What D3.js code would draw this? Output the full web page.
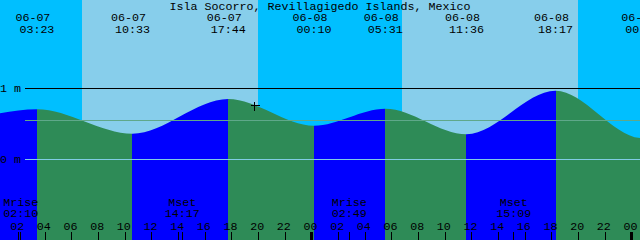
<!DOCTYPE html>
<html>
<head>
<meta charset="utf-8">
<script src="https://cdn.jsdelivr.net/npm/d3@7"></script>
<style>
  body { margin: 0; overflow: hidden; background: #fff; }
  svg { display: block; }
  text { font-family: 'Liberation Mono', 'DejaVu Sans Mono', monospace; font-size: 11.66px; fill: #000; }
</style>
</head>
<body>
<svg width="640" height="240"></svg>
<script>
var title = 'Isla Socorro, Revillagigedo Islands, Mexico';
var year = 2024; // year is not printed on the chart
var startTime = '06-07 00:37';
var endTime = '06-09 00:37';

// highs and lows; first two and last one fall outside the window
var tideTimes = ['06-06 16:40', '06-06 22:00', '06-07 03:23', '06-07 10:33', '06-07 17:44',
  '06-08 00:10', '06-08 05:31', '06-08 11:36', '06-08 18:17', '06-09 00:49', '06-09 07:10'];
var tideLevels = [0.85, 0.60, 0.707, 0.363, 0.852, 0.476, 0.715, 0.355, 0.969, 0.30, 0.74];

var sunTimes = ['06-07 06:45', '06-07 19:57', '06-08 06:45', '06-08 19:57']; // rise, set, rise, set
var moonNames = ['Mrise', 'Mset', 'Mrise', 'Mset'];
var moonTimes = ['06-07 02:10', '06-07 14:17', '06-08 02:49', '06-08 15:09'];

var depthMarks = [1, 0];
var depthLabels = ['1 m', '0 m'];
var meanLevel = 0.55;
var nowTime = '06-07 19:38';
var nowLevel = 0.77;

var W = 640, H = 240;
var parse = d3.timeParse('%Y-%m-%d %H:%M');
function when(s) { return parse(year + '-' + s); }

var x = d3.scaleTime().domain([when(startTime), when(endTime)]).range([0, W]);
var y = d3.scaleLinear().domain([0, 1]).range([159.5, 88.5]);

var svg = d3.select('svg');
var fmtDate = d3.timeFormat('%m-%d');
var fmtTime = d3.timeFormat('%H:%M');
var fmtHour = d3.timeFormat('%H');

var tides = tideTimes.map(function(s, i) {
  return { time: when(s), level: tideLevels[i] };
});

// night background, day bands on top
svg.append('rect').attr('width', W).attr('height', H).attr('fill', '#00bfff');
for (var i = 0; i < sunTimes.length; i += 2) {
  var x0 = x(when(sunTimes[i])), x1 = x(when(sunTimes[i + 1]));
  svg.append('rect')
    .attr('x', x0).attr('y', 0).attr('width', x1 - x0).attr('height', H)
    .attr('fill', '#87ceeb').style('shape-rendering', 'crispEdges');
}

// tide area used as a clip, filled blue while rising and green while falling
var area = d3.area()
  .x(function(d) { return x(d.time); })
  .y0(H)
  .y1(function(d) { return y(d.level); })
  .curve(d3.curveMonotoneX);

svg.append('clipPath').attr('id', 'tide')
  .append('path').attr('d', area(tides));

var water = svg.append('g').attr('clip-path', 'url(#tide)');
for (var j = 0; j < tides.length - 1; j++) {
  var a = x(tides[j].time), b = x(tides[j + 1].time);
  water.append('rect')
    .attr('x', a).attr('y', 0).attr('width', b - a).attr('height', H)
    .attr('fill', tides[j + 1].level > tides[j].level ? '#0000ff' : '#2e8b57')
    .style('shape-rendering', 'crispEdges');
}

// depth lines
svg.append('line')
  .attr('x1', 25).attr('x2', W).attr('y1', y(meanLevel)).attr('y2', y(meanLevel))
  .attr('stroke', '#5fa88a').attr('stroke-width', 1).style('shape-rendering', 'crispEdges');
depthMarks.forEach(function(m, i) {
  svg.append('line')
    .attr('x1', 25).attr('x2', W).attr('y1', y(m)).attr('y2', y(m))
    .attr('stroke', m === 0 ? '#80cce4' : '#000').attr('stroke-width', 1)
    .style('shape-rendering', 'crispEdges');
  svg.append('text').attr('x', 0).attr('y', y(m) + 3.5).text(depthLabels[i]);
});

// title
svg.append('text').attr('x', W / 2).attr('y', 9.5).attr('text-anchor', 'middle').text(title);

// high / low labels (only those near the window)
tides.filter(function(d) {
  var px = x(d.time);
  return px > -10 && px < W + 20;
}).forEach(function(d) {
  var px = x(d.time);
  svg.append('text').attr('x', px - 4).attr('y', 20.5).attr('text-anchor', 'middle').text(fmtDate(d.time));
  svg.append('text').attr('x', px).attr('y', 33).attr('text-anchor', 'middle').text(fmtTime(d.time));
});

// moon rise / set
moonTimes.forEach(function(s, i) {
  var t = when(s), px = x(t);
  svg.append('text').attr('x', px).attr('y', 205.5).attr('text-anchor', 'middle').text(moonNames[i]);
  svg.append('text').attr('x', px).attr('y', 217).attr('text-anchor', 'middle').text(fmtTime(t));
  svg.append('rect').attr('x', Math.round(px - 0.5)).attr('y', 232).attr('width', 1).attr('height', 8)
    .attr('fill', '#000').style('shape-rendering', 'crispEdges');
});

// hour axis along the bottom
x.ticks(d3.timeHour.every(2)).forEach(function(t) {
  var px = x(t);
  var midnight = t.getHours() === 0;
  svg.append('text').attr('x', px - 1.3).attr('y', 230).attr('text-anchor', 'middle').text(fmtHour(t));
  svg.append('rect')
    .attr('x', midnight ? Math.round(px - 1.5) : Math.round(px - 0.5)).attr('y', 232)
    .attr('width', midnight ? 3 : 1).attr('height', 8)
    .attr('fill', '#000').style('shape-rendering', 'crispEdges');
});

// current time marker
var nx = Math.round(x(when(nowTime))) + 0.5, ny = Math.round(y(nowLevel)) + 0.5;
svg.append('path')
  .attr('d', 'M' + (nx - 4) + ',' + ny + 'H' + (nx + 5) + 'M' + nx + ',' + (ny - 4) + 'V' + (ny + 5))
  .attr('stroke', '#000').attr('stroke-width', 1).attr('fill', 'none')
  .style('shape-rendering', 'crispEdges');
</script>
</body>
</html>
